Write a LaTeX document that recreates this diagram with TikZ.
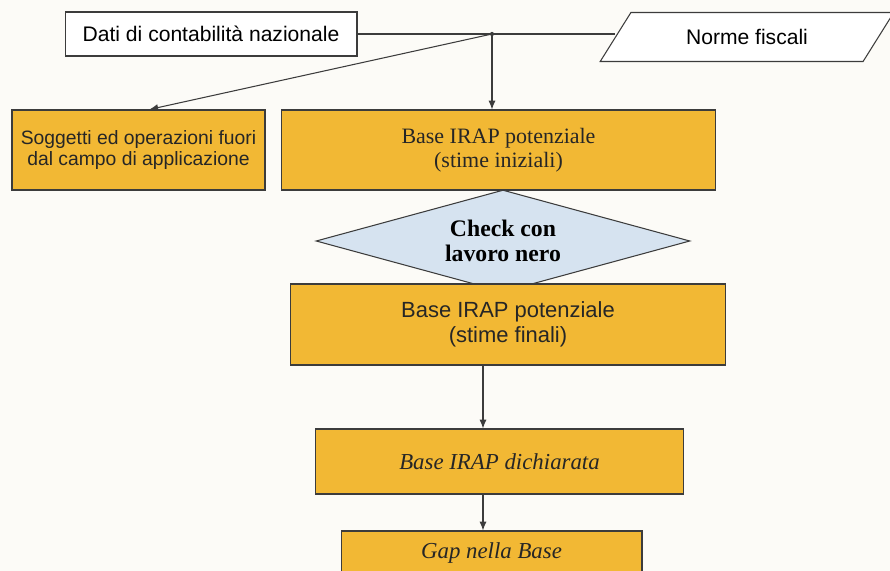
\documentclass[tikz,border=0pt]{standalone}
\usepackage{fontspec}
\setmainfont{Liberation Serif}
\setsansfont{Liberation Sans}
\usetikzlibrary{arrows.meta, shapes.geometric}
\definecolor{boxorange}{RGB}{242,184,52}
\definecolor{checkblue}{RGB}{214,227,240}
\definecolor{linegray}{RGB}{60,60,60}
\definecolor{paper}{RGB}{252,251,247}
\tikzset{block/.style = {shape = rectangle, draw = linegray, fill = boxorange, line width = 0.6pt, align = center, text = black!85}}
\tikzset{plain/.style = {draw = linegray, fill = white, line width = 0.6pt, font = \sffamily\fontsize{12}{14}\selectfont}}
\tikzset{edge/.style = {-{Latex[length=5pt, width=4pt]}, draw = linegray, line width = 0.6pt}}
\tikzset{line/.style = {-, draw = linegray, line width = 0.6pt}}

\begin{document}
\begin{tikzpicture}[x=0.02cm, y=-0.02cm]
	\fill[paper] (0,0) rectangle (890,571);
	\useasboundingbox (0,0) rectangle (890,571);

	\node[plain, minimum width = 5.84cm, minimum height = 0.88cm] (dati) at (211, 34) {Dati di contabilità nazionale};
	\node[plain, trapezium, trapezium left angle = 57, trapezium right angle = 123, trapezium stretches = true, minimum width = 5.88cm, minimum height = 0.98cm] (norme) at (747, 37) {Norme fiscali};
	\coordinate (junc) at (492, 34);

	\node[block, minimum width = 5.06cm, minimum height = 1.6cm, font = \sffamily\fontsize{11}{12.5}\selectfont] (sogg) at (138.5, 150) {Soggetti ed operazioni fuori\\dal campo di applicazione};
	\node[block, minimum width = 8.7cm, minimum height = 1.6cm, font = \fontsize{12.5}{13.5}\selectfont] (iniz) at (498.5, 150) {Base IRAP potenziale\\(stime iniziali)};
	\node[shape = diamond, aspect = 3.667, draw = linegray, fill = checkblue, line width = 0.6pt, minimum width = 7.48cm, minimum height = 2.04cm, align = center, inner sep = 0pt, font = \bfseries\fontsize{13.5}{14.5}\selectfont] (check) at (503, 241) {Check con\\lavoro nero};
	\node[block, minimum width = 8.72cm, minimum height = 1.62cm, font = \sffamily\fontsize{12.5}{14}\selectfont] (fin) at (508, 324.5) {Base IRAP potenziale\\(stime finali)};
	\node[block, minimum width = 7.38cm, minimum height = 1.3cm, font = \itshape\fontsize{13}{15}\selectfont] (dich) at (499.5, 461.5) {Base IRAP dichiarata};
	\node[block, minimum width = 6.02cm, minimum height = 0.88cm, font = \itshape\fontsize{13}{15}\selectfont] (gap) at (491.5, 553) {Gap nella Base};
	\coordinate (down) at (483, 0);

	\draw[line] (dati.east) to (junc);
	\draw[line] (junc) to (junc -| norme.west);
	\fill[linegray] (junc) circle (1.2pt);
	\draw[edge] (junc) to (sogg.75);
	\draw[edge] (junc) to (junc |- iniz.north);
	\draw[edge] (down |- fin.south) to (down |- dich.north);
	\draw[edge] (down |- dich.south) to (down |- gap.north);
\end{tikzpicture}
\end{document}
